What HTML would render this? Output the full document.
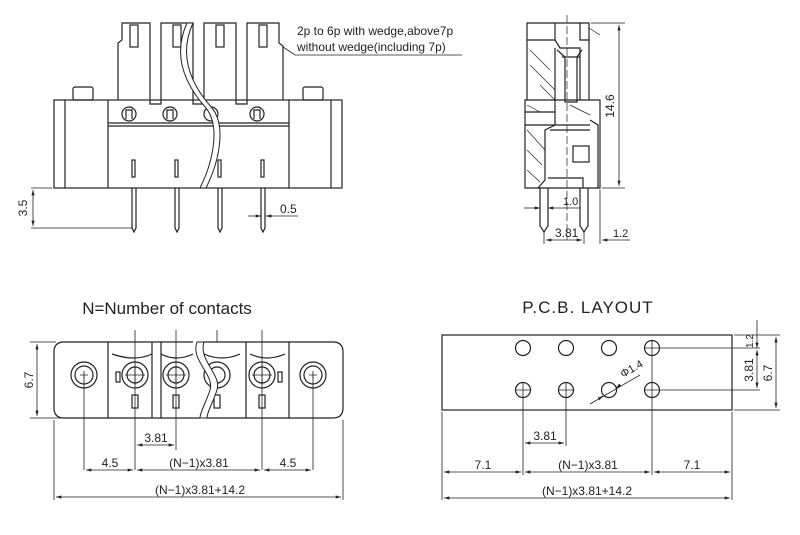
<!DOCTYPE html>
<html><head><style>body{margin:0;background:#fff}svg{display:block}text{font-family:"Liberation Sans",sans-serif;fill:#222}</style></head><body>
<svg width="800" height="535" viewBox="0 0 800 535" xmlns="http://www.w3.org/2000/svg">
<defs>
<marker id="a" viewBox="0 0 10 6" refX="10" refY="3" markerWidth="8" markerHeight="4" orient="auto-start-reverse"><path d="M0,0L10,3L0,6z" fill="#222"/></marker>
</defs>
<g fill="none" stroke="#222" stroke-width="1.2">
<path d="M118,100V43L122,40V23H150V104H161V23H193V104H204V23H236V104H247V23H279V43L283,46V100"/>
<rect x="130" y="25" width="8" height="22"/><rect x="173" y="25" width="8" height="22"/><rect x="216" y="25" width="8" height="22"/><rect x="259" y="25" width="8" height="22"/>
<rect x="73" y="87" width="20" height="13" rx="2"/><rect x="303" y="87" width="20" height="13" rx="2"/>
<rect x="54" y="100" width="288" height="88"/>
<path d="M65,100V188M108,100V188M289,100V188M331,100V188M108,123H289M108,126H289"/>
<circle cx="129" cy="114" r="7"/><circle cx="170" cy="114" r="7"/><circle cx="211" cy="114" r="7"/><circle cx="257" cy="114" r="7"/>
<path d="M126,119V110H132V119M167,119V110H173V119M254,119V110H260V119"/>
<rect x="132" y="160" width="3" height="17"/><rect x="175" y="160" width="3" height="17"/><rect x="218" y="160" width="3" height="17"/><rect x="261" y="160" width="3" height="17"/>
<path d="M132,188V228L134,232L136,228V188M175,188V228L177,232L179,228V188M218,188V228L220,232L222,228V188M261,188V228L263,232L265,228V188"/>
</g>
<path d="M193,23C176,60 196,90 212,108C226,125 220,160 206,188L200,188C214,160 220,125 206,108C190,90 170,60 187,23Z" fill="#fff" stroke="#222" stroke-width="1"/>
<g fill="none" stroke="#222" stroke-width="0.8">
<path d="M31,188H52M31,228H132"/>
<path d="M33,190V226" marker-start="url(#a)" marker-end="url(#a)"/>
<path d="M248,216H261" marker-end="url(#a)"/><path d="M266,216H298"/>
<path d="M272,216H266" marker-end="url(#a)"/>
<path d="M283,47L295,55H462"/>
</g>
<text x="27" y="208" font-size="12" transform="rotate(-90 27 208)" text-anchor="middle">3.5</text>
<text x="280" y="213" font-size="12">0.5</text>
<text x="297" y="35" font-size="12">2p to 6p with wedge,above7p</text>
<text x="297" y="51" font-size="12">without wedge(including 7p)</text>

<g fill="none" stroke="#222" stroke-width="1.2">
<path d="M527,100V23H589V100M525,100H600V188H525Z"/>
<path d="M527,40H555V23M580,23V40H589M555,40L560,48H580V100M555,48V100M560,48H580"/>
<path d="M557,50L565,57V102H577V57L582,50M562,57H580"/>
<path d="M525,112H555M525,125H555M555,100V125L545,130V180L538,188M550,125H590M550,130H590M590,120L598,125V188M548,178H583V188"/>
<rect x="573" y="146" width="16" height="16"/>
<path d="M540,188V226L544,232L548,226V188M580,188V226L584,232L588,226V188"/>
</g>
<g stroke="#222" stroke-width="0.7"><path d="M530,50L550,70M530,65L555,90M540,85L555,100M527,105L540,112M527,130L545,150M527,150L542,165M527,170L540,182M589,28L600,35M570,105L590,115"/><path d="M567,15V240" stroke-dasharray="8,3"/></g>
<g fill="none" stroke="#222" stroke-width="0.8">
<path d="M591,23H625M602,188H625M544,232V244M584,232V244M600,190V244"/>
<path d="M619,25V186" marker-start="url(#a)" marker-end="url(#a)"/>
<path d="M524,208H540" marker-end="url(#a)"/><path d="M580,208H548" marker-end="url(#a)"/>
<path d="M546,240H582" marker-start="url(#a)" marker-end="url(#a)"/>
<path d="M630,240H602" marker-end="url(#a)"/>
</g>
<text x="614" y="106" font-size="12" transform="rotate(-90 614 106)" text-anchor="middle">14.6</text>
<text x="563" y="205" font-size="11">1.0</text>
<text x="555" y="237" font-size="12">3.81</text>
<text x="613" y="237" font-size="11">1.2</text>

<text x="167" y="314" font-size="17" text-anchor="middle">N=Number of contacts</text>
<g fill="none" stroke="#222" stroke-width="1.2">
<path d="M108,342H64Q54,342 54,352V408Q54,418 64,418H108M289,342H333Q343,342 343,352V408Q343,418 333,418H289"/>
<path d="M108,342H193M204,342H289M108,418H200M207,418H289M108,342V418M152,342V418M161,342V418M246,342V418M289,342V418"/>
<path d="M112,354Q135,362 152,354M161,354Q176,362 193,354M204,354Q222,362 240,354M250,354Q267,362 285,354"/>
<rect x="132" y="395" width="6" height="13"/><rect x="173" y="395" width="6" height="13"/><rect x="214" y="395" width="6" height="13"/><rect x="259" y="395" width="6" height="13"/>
<rect x="116" y="372" width="4" height="10"/><rect x="278" y="372" width="4" height="10"/>
<circle cx="84" cy="375" r="13"/><circle cx="84" cy="375" r="9"/>
<circle cx="313" cy="375" r="13"/><circle cx="313" cy="375" r="9"/>
<circle cx="135" cy="375" r="13"/><circle cx="135" cy="375" r="8"/>
<circle cx="176" cy="375" r="13"/><circle cx="176" cy="375" r="8"/>
<circle cx="217" cy="375" r="13"/><circle cx="217" cy="375" r="8"/>
<circle cx="262" cy="375" r="13"/><circle cx="262" cy="375" r="8"/>
</g>
<path d="M197,342C190,360 215,375 210,390C205,405 200,412 200,418L207,418C207,412 212,405 217,390C222,375 198,360 204,342Z" fill="#fff" stroke="#222" stroke-width="1"/>
<g fill="none" stroke="#222" stroke-width="0.8">
<path d="M135,330V470M176,330V450M217,330V342M262,330V470M84,375V470M313,375V470M54,420V500M343,420V500M30,342H56M30,418H108"/>
<path d="M135,365V385M125,375H145M176,365V385M166,375H186M262,365V385M252,375H272M80,375H88M84,371V379M309,375H317M313,371V379"/>
<path d="M37,344V416" marker-start="url(#a)" marker-end="url(#a)"/>
<path d="M137,445H174" marker-start="url(#a)" marker-end="url(#a)"/>
<path d="M86,470H133" marker-start="url(#a)" marker-end="url(#a)"/>
<path d="M137,470H260" marker-start="url(#a)" marker-end="url(#a)"/>
<path d="M264,470H311" marker-start="url(#a)" marker-end="url(#a)"/>
<path d="M56,497H341" marker-start="url(#a)" marker-end="url(#a)"/>
</g>
<text x="33" y="380" font-size="12" transform="rotate(-90 33 380)" text-anchor="middle">6.7</text>
<text x="156" y="442" font-size="12" text-anchor="middle">3.81</text>
<text x="110" y="467" font-size="12" text-anchor="middle">4.5</text>
<text x="199" y="467" font-size="12" text-anchor="middle">(N−1)x3.81</text>
<text x="288" y="467" font-size="12" text-anchor="middle">4.5</text>
<text x="200" y="494" font-size="12" text-anchor="middle">(N−1)x3.81+14.2</text>

<text x="588" y="313" font-size="17" text-anchor="middle" letter-spacing="1">P.C.B. LAYOUT</text>
<g fill="none" stroke="#222" stroke-width="1.2">
<rect x="442" y="335" width="290" height="75"/>
<circle cx="523" cy="348" r="7.5"/><circle cx="566" cy="348" r="7.5"/><circle cx="609" cy="348" r="7.5"/><circle cx="652" cy="348" r="7.5"/>
<circle cx="523" cy="390" r="7.5"/><circle cx="566" cy="390" r="7.5"/><circle cx="609" cy="390" r="7.5"/><circle cx="652" cy="390" r="7.5"/>
</g>
<g fill="none" stroke="#222" stroke-width="0.8">
<path d="M644,348H760M652,340V356M644,390H760M515,390H531M558,390H574M523,382V475M566,382V446M652,340V475M442,412V500M732,412V500M734,335H780M734,410H780"/>
<path d="M590,404L640,375"/><path d="M620,385L616,388" marker-end="url(#a)"/><path d="M600,398L603,396" marker-end="url(#a)"/>
<path d="M757,320V348" marker-end="url(#a)"/><path d="M757,350V388" marker-start="url(#a)" marker-end="url(#a)"/>
<path d="M776,337V408" marker-start="url(#a)" marker-end="url(#a)"/>
<path d="M525,443H564" marker-start="url(#a)" marker-end="url(#a)"/>
<path d="M444,472H521" marker-start="url(#a)" marker-end="url(#a)"/>
<path d="M525,472H650" marker-start="url(#a)" marker-end="url(#a)"/>
<path d="M654,472H730" marker-start="url(#a)" marker-end="url(#a)"/>
<path d="M444,498H730" marker-start="url(#a)" marker-end="url(#a)"/>
</g>
<text x="623" y="378" font-size="11" transform="rotate(-30 623 378)">Φ1.4</text>
<text x="753" y="341" font-size="10" transform="rotate(-90 753 341)" text-anchor="middle">1.2</text>
<text x="753" y="370" font-size="12" transform="rotate(-90 753 370)" text-anchor="middle">3.81</text>
<text x="772" y="373" font-size="12" transform="rotate(-90 772 373)" text-anchor="middle">6.7</text>
<text x="545" y="440" font-size="12" text-anchor="middle">3.81</text>
<text x="483" y="469" font-size="12" text-anchor="middle">7.1</text>
<text x="588" y="469" font-size="12" text-anchor="middle">(N−1)x3.81</text>
<text x="692" y="469" font-size="12" text-anchor="middle">7.1</text>
<text x="587" y="495" font-size="12" text-anchor="middle">(N−1)x3.81+14.2</text>
</svg>
</body></html>
